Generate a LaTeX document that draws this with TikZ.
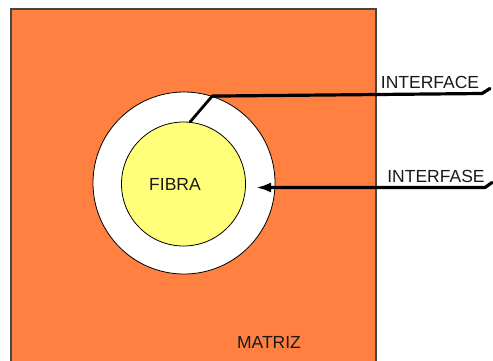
\documentclass[tikz,border=0pt]{standalone}
\usepackage{fontspec}
\setmainfont{Liberation Sans}
\usetikzlibrary{arrows.meta}
\definecolor{matrizorange}{RGB}{255,128,64}
\definecolor{fibrayellow}{RGB}{255,255,122}
\definecolor{edgegray}{RGB}{70,70,70}
\tikzset{
  lbl/.style={font=\fontsize{17.5}{19}\selectfont, text=black!90, inner sep=0pt},
  ring/.style={circle, draw=black, line width=0.8pt, inner sep=0pt},
  leader/.style={line width=3.2pt, black, line cap=round, line join=round},
}
\begin{document}
\begin{tikzpicture}[x=1pt, y=-1pt]
  \useasboundingbox (0,0) rectangle (493,360);
  % matrix block
  \draw[edgegray, line width=1.6pt, fill=matrizorange] (11,9) rectangle (376,365);
  % interphase ring and fibre
  \node[ring, fill=white, minimum size=182pt] (inter) at (184,183) {};
  \node[ring, fill=fibrayellow, minimum size=124pt] (fibra) at (183.5,184) {};
  \node[lbl] (tfibra) at (175,184) {FIBRA};
  \node[lbl] (tmatriz) at (269,342) {MATRIZ};
  % labels on the right
  \node[lbl] (tface) at (430,82) {INTERFACE};
  \node[lbl] (tfase) at (436,176) {INTERFASE};
  % leader lines
  \coordinate (faceend) at (482,93.5);
  \coordinate (facehook) at (490,88.5);
  \coordinate (fasetip) at (256,187.5);
  \coordinate (faseend) at (485,187.5);
  \coordinate (fasehook) at (492,182.5);
  \draw[leader, line width=2.8pt] (fibra.84) -- (inter.72);
  \draw[leader] (inter.72) -- (faceend) -- (facehook);
  \draw[leader, {Latex[length=15pt,width=10pt]}-] (fasetip) -- (faseend) -- (fasehook);
\end{tikzpicture}
\end{document}
